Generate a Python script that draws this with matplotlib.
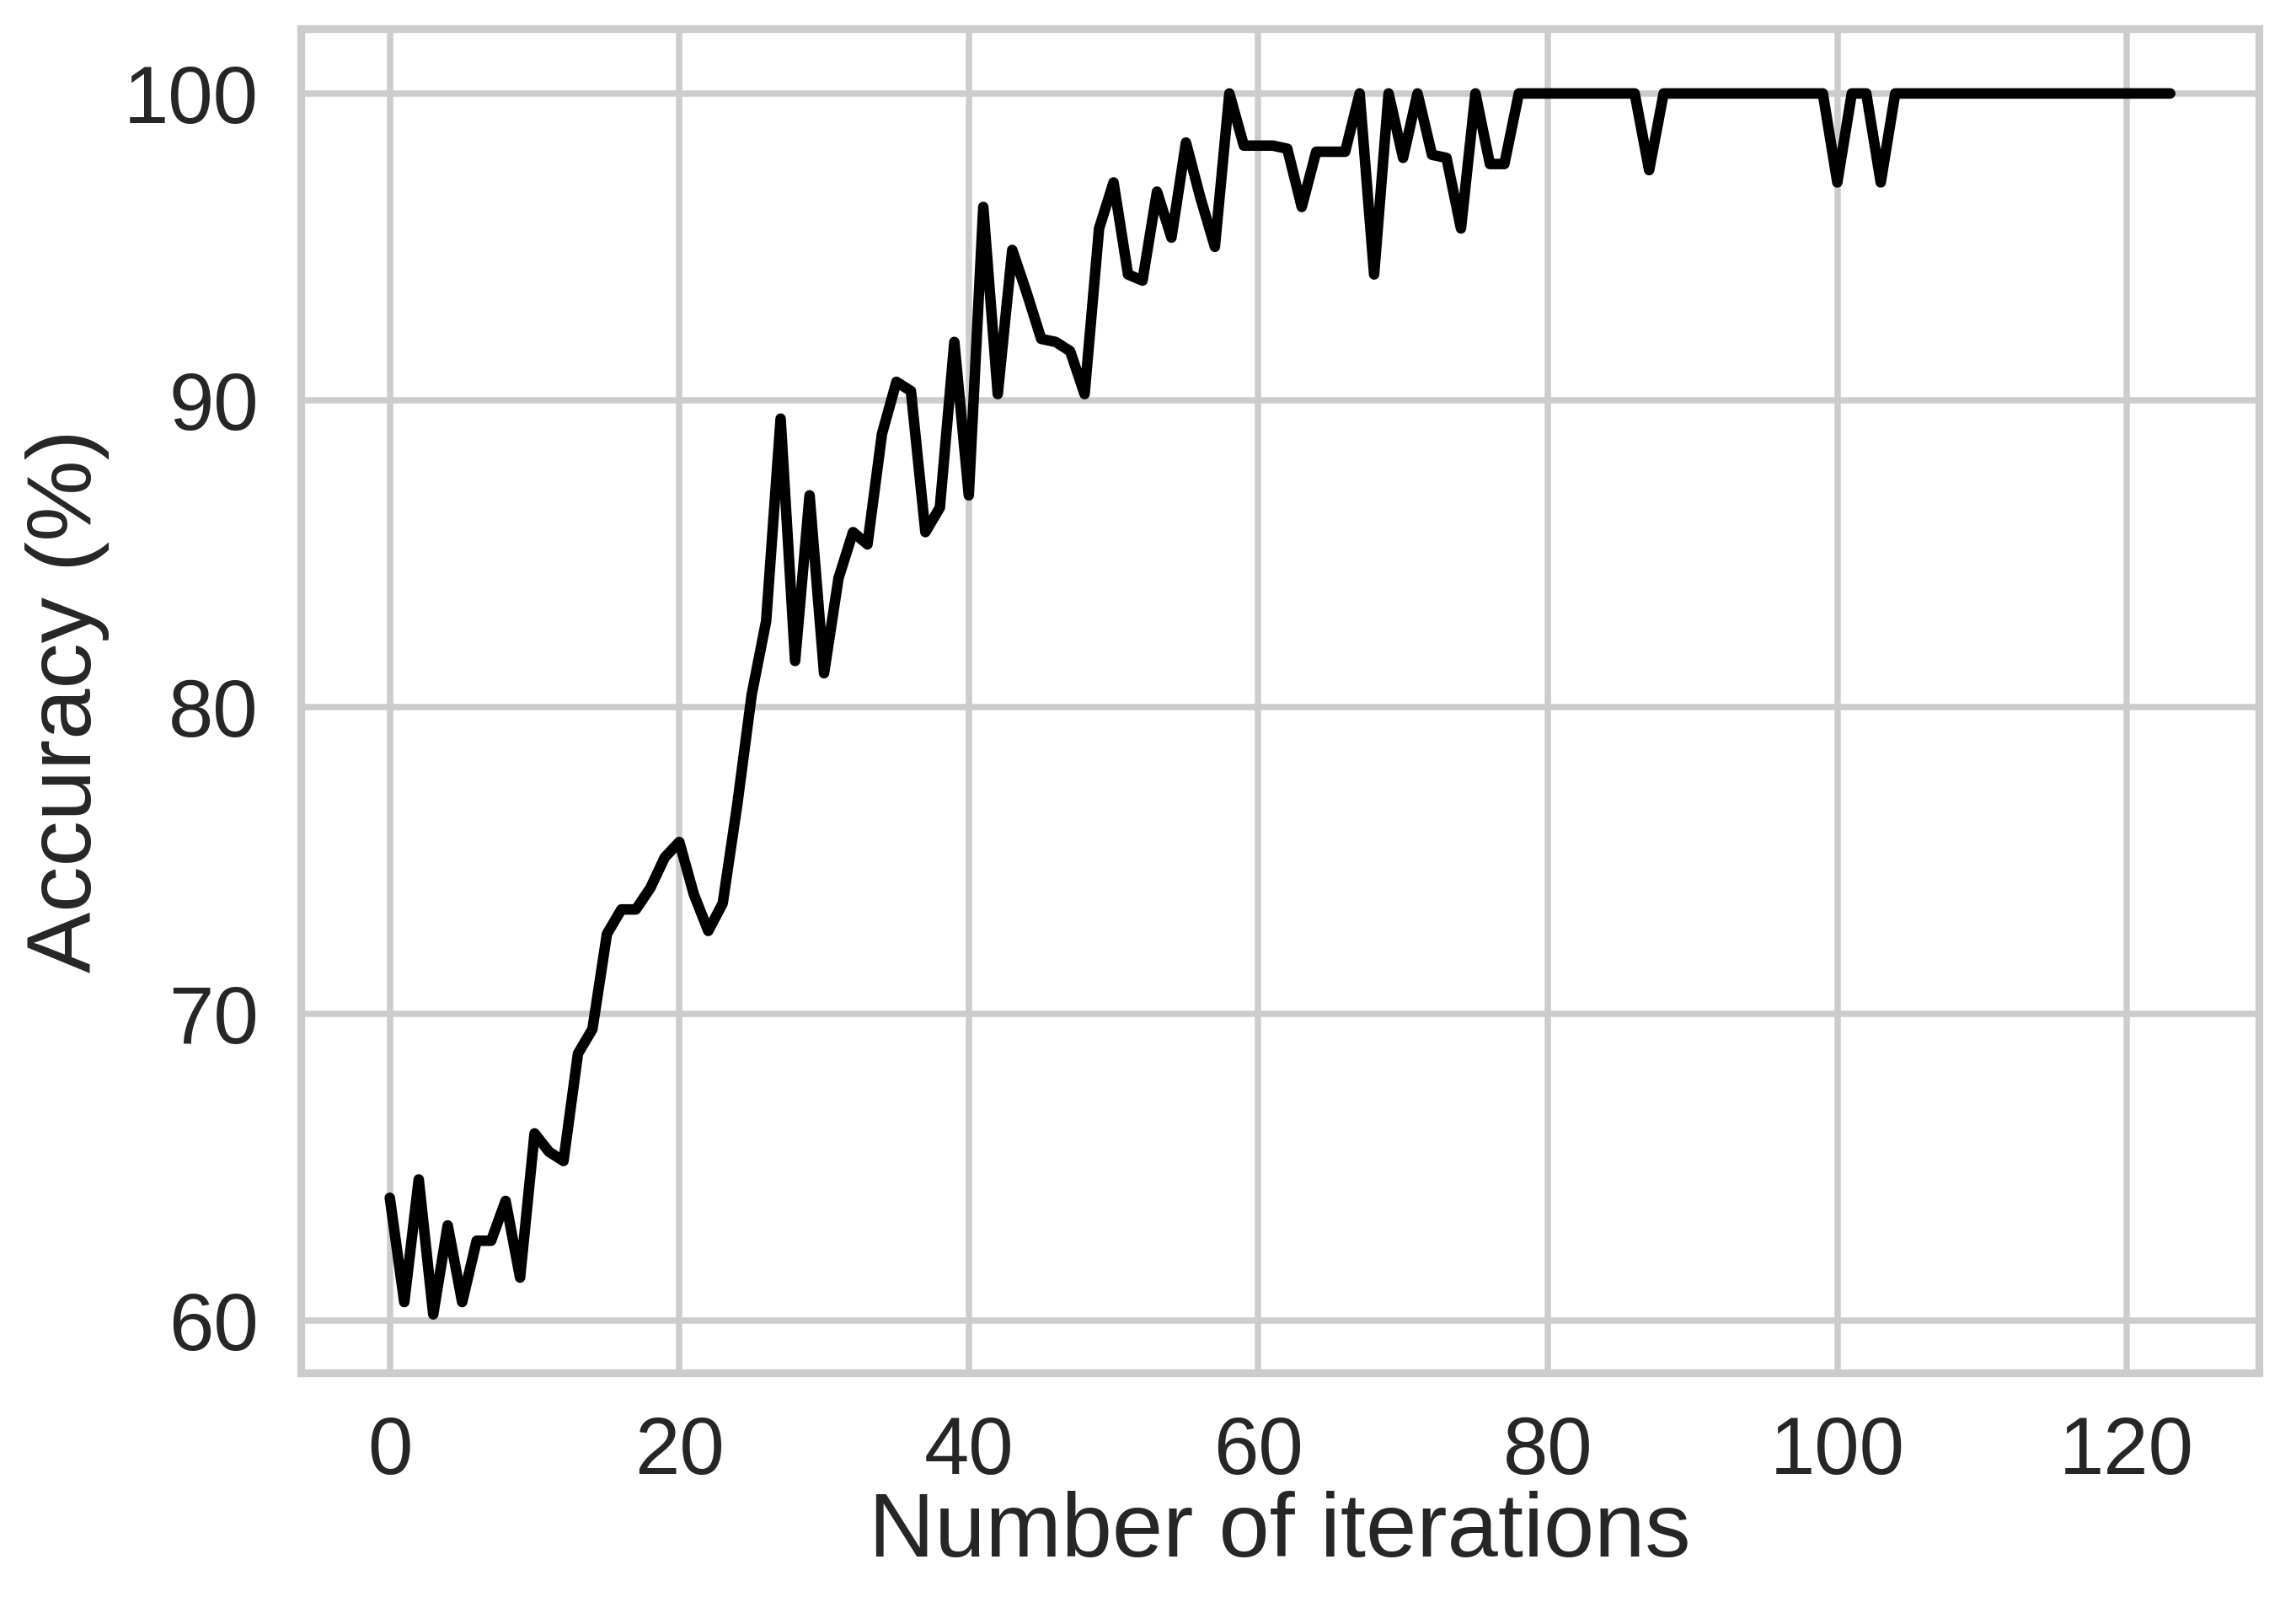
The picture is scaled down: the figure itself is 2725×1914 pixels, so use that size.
import matplotlib
matplotlib.use("Agg")
import matplotlib.pyplot as plt
import seaborn as sns

sns.set_theme(style="whitegrid")
plt.rcParams['font.family'] = ['Liberation Sans', 'DejaVu Sans']

accuracy = [
    64.0, 60.6, 64.6, 60.2, 63.1, 60.6, 62.6, 62.6, 63.9, 61.4,
    66.1, 65.5, 65.2, 68.7, 69.5, 72.6, 73.4, 73.4, 74.1, 75.1,
    75.6, 73.9, 72.7, 73.6, 76.8, 80.4, 82.8, 89.4, 81.5, 86.9,
    81.1, 84.2, 85.7, 85.3, 88.9, 90.6, 90.3, 85.7, 86.5, 91.9,
    86.9, 96.3, 90.2, 94.9, 93.5, 92.0, 91.9, 91.6, 90.2, 95.6,
    97.1, 94.1, 93.9, 96.8, 95.3, 98.4, 96.6, 95.0, 100.0, 98.3,
    98.3, 98.3, 98.2, 96.3, 98.1, 98.1, 98.1, 100.0, 94.1, 100.0,
    97.9, 100.0, 98.0, 97.9, 95.6, 100.0, 97.7, 97.7, 100.0, 100.0,
    100.0, 100.0, 100.0, 100.0, 100.0, 100.0, 100.0, 97.5, 100.0, 100.0,
    100.0, 100.0, 100.0, 100.0, 100.0, 100.0, 100.0, 100.0, 100.0, 100.0,
    97.1, 100.0, 100.0, 97.1, 100.0, 100.0, 100.0, 100.0, 100.0, 100.0,
    100.0, 100.0, 100.0, 100.0, 100.0, 100.0, 100.0, 100.0, 100.0, 100.0,
    100.0, 100.0, 100.0, 100.0,
]
iterations = list(range(len(accuracy)))

fig, ax = plt.subplots(figsize=(2725 / 300, 1914 / 300), dpi=300)
ax.plot(iterations, accuracy, color="black", linewidth=3)
ax.set_xlabel("Number of iterations", fontsize=26, color="#262626", labelpad=0)
ax.set_ylabel("Accuracy (%)", fontsize=26, color="#262626", labelpad=4)
ax.tick_params(labelsize=23, colors="#262626", pad=6)
ax.set_xticks(range(0, 121, 20))
ax.set_yticks(range(60, 101, 10))
ax.set_ylim(58.3, 102.1)
ax.grid(color="#cccccc", linewidth=1.8)
for s in ax.spines.values():
    s.set_color("#cccccc")
    s.set_linewidth(2.2)
fig.subplots_adjust(left=0.131, right=0.984, bottom=0.149, top=0.982)
fig.savefig("out.png", dpi=300)
